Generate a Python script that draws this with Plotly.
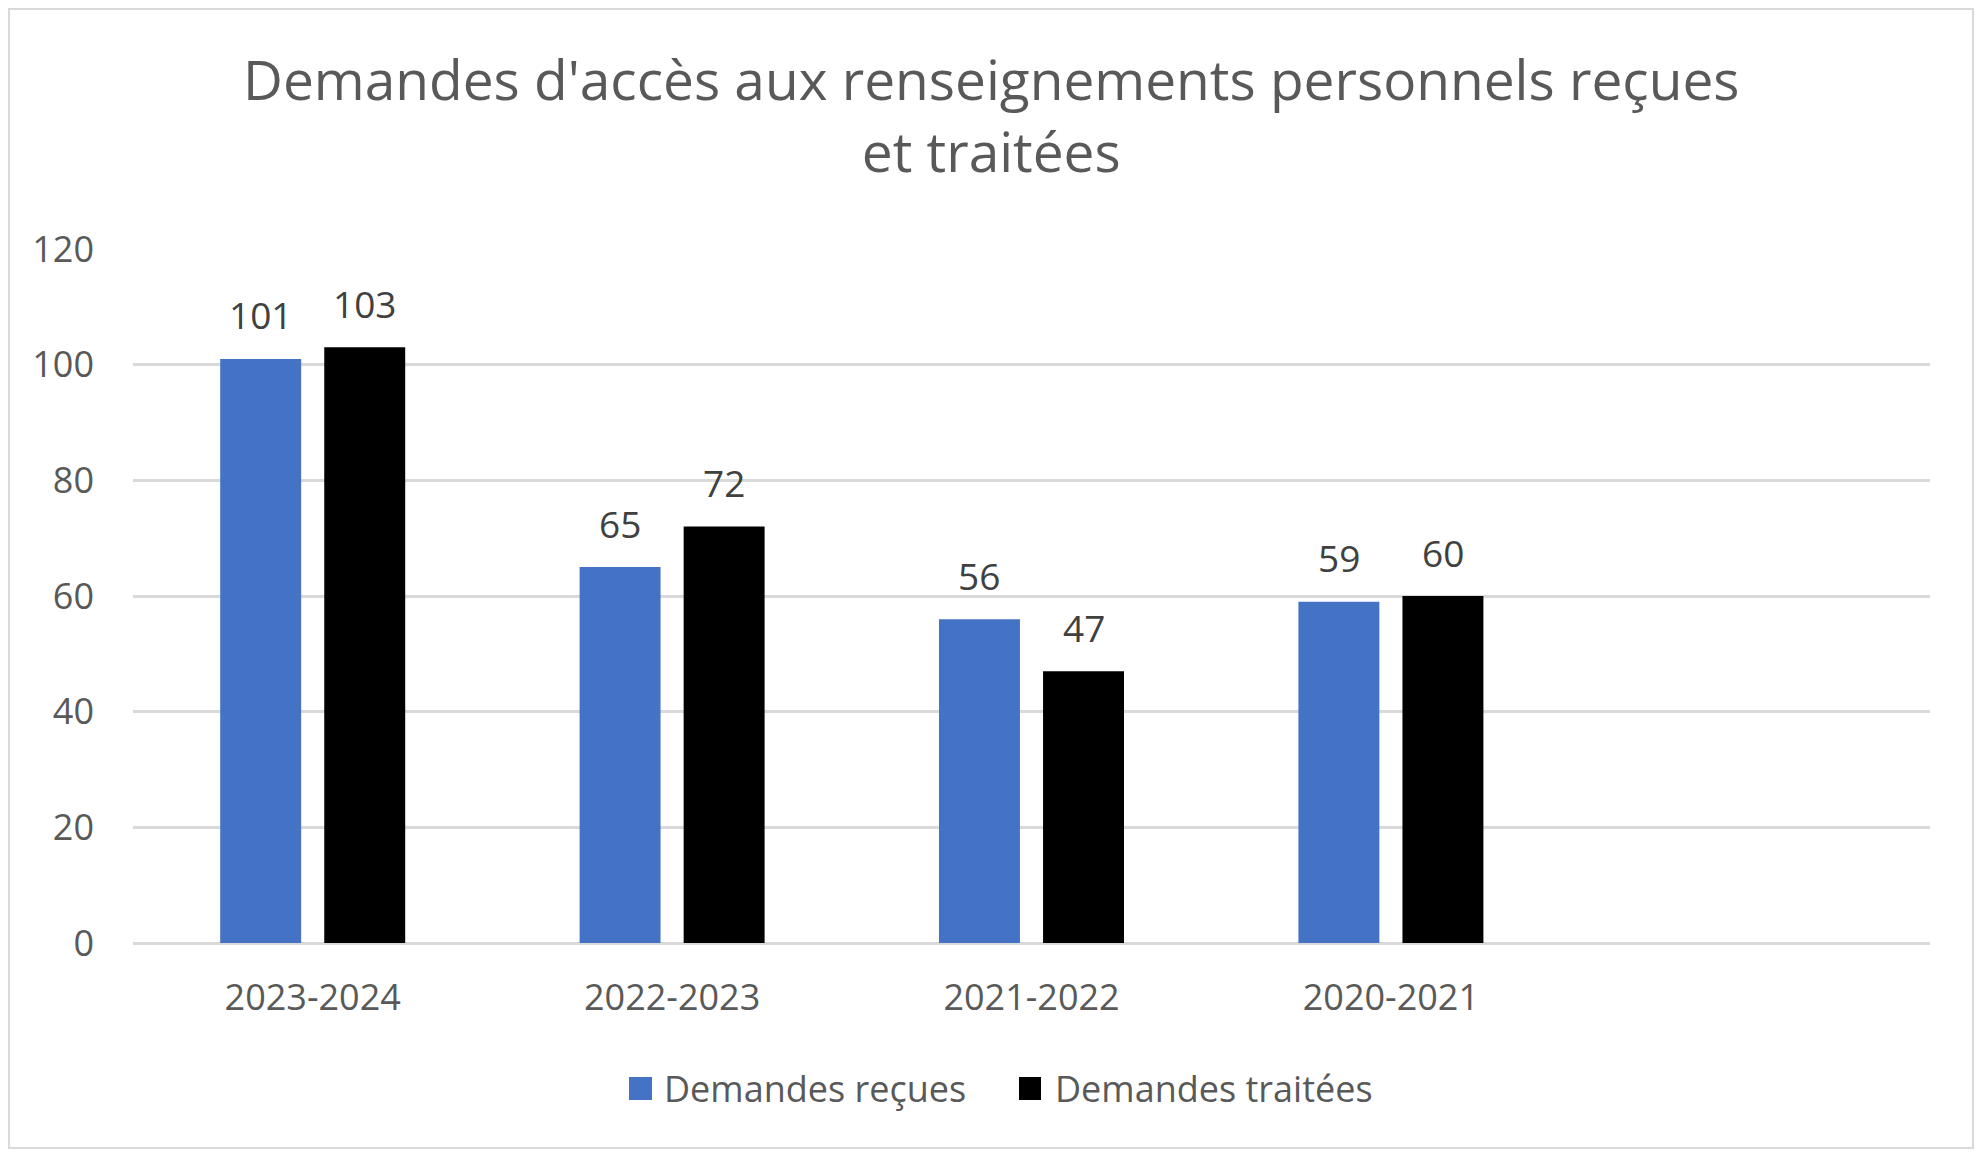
import plotly.graph_objects as go

categories = ["2023-2024", "2022-2023", "2021-2022", "2020-2021"]
recues = [101, 65, 56, 59]
traitees = [103, 72, 47, 60]
series_names = ["Demandes reçues", "Demandes traitées"]
series_colors = ["#4472C4", "#000000"]
title_text = "Demandes d'accès aux renseignements personnels reçues<br>et traitées"
y_ticks = [0, 20, 40, 60, 80, 100, 120]

# page has 8px body margin -> figure drawn at (8, 8)
OFF = 8
W, H = 1982 - 2 * OFF, 1157 - 2 * OFF
ml, mt = 133 - OFF, 249 - OFF
plot_right, plot_bottom = 1930 - OFF, 943 - OFF
mr, mb = W - plot_right, H - plot_bottom
pw, ph = W - ml - mr, H - mt - mb
FONT = "Open Sans"


def px(X):
    return (X - OFF - ml) / pw


def py(Y):
    return (plot_bottom - (Y - OFF)) / ph


fig = go.Figure()
bar_gap, group_gap = 0.421, 0.222
for name, vals, col in zip(series_names, [recues, traitees], series_colors):
    fig.add_trace(go.Bar(x=categories, y=vals, name=name,
                         marker=dict(color=col, line=dict(width=0)),
                         showlegend=False))

# data labels as annotations (offset to each bar of the group)
cat_px = pw / 5
slot_px = cat_px * (1 - bar_gap) / 2
for k, vals in enumerate([recues, traitees]):
    shift = (k - 0.5) * slot_px
    for c, v in zip(categories, vals):
        fig.add_annotation(x=c, y=v, xref="x", yref="y", text=str(v), showarrow=False,
                           xshift=shift, yshift=44, yanchor="middle",
                           font=dict(size=37, color="#404040", family=FONT))

# manual legend (large square swatches like the reference)
legend_items = [(629, 652, 662), (1019, 1041, 1053)]
for (sx0, sx1, tx), name, col in zip(legend_items, series_names, series_colors):
    fig.add_shape(type="rect", xref="paper", yref="paper",
                  x0=px(sx0), x1=px(sx1), y0=py(1100), y1=py(1077),
                  fillcolor=col, line=dict(width=0))
    fig.add_annotation(x=px(tx), y=py(1088), xref="paper", yref="paper", text=name,
                       showarrow=False, xanchor="left", yanchor="middle",
                       font=dict(size=36, color="#595959", family=FONT))

# title
fig.add_annotation(x=px(991), y=py(115), xref="paper", yref="paper", text=title_text,
                   showarrow=False, xanchor="center", yanchor="middle",
                   font=dict(size=55, color="#595959", family=FONT))

# chart border
fig.add_shape(type="rect", xref="paper", yref="paper",
              x0=-(ml - 1) / pw, x1=1 + (mr - 1) / pw,
              y0=-(mb - 1) / ph, y1=1 + (mt - 1) / ph,
              line=dict(color="#d9d9d9", width=2), layer="below")

fig.update_layout(
    width=W, height=H,
    margin=dict(l=ml, r=mr, t=mt, b=mb, autoexpand=False),
    paper_bgcolor="white", plot_bgcolor="white",
    font=dict(family=FONT, color="#595959"),
    barmode="group", bargap=bar_gap, bargroupgap=group_gap,
    showlegend=False,
    xaxis=dict(type="category", range=[-0.5, 4.5], showgrid=False, showline=False,
               ticks="", tickfont=dict(size=36, color="#595959"), ticklabelstandoff=30,
               fixedrange=True),
    yaxis=dict(range=[0, 120], tickvals=y_ticks, showgrid=True, gridcolor="#d9d9d9",
               gridwidth=2.5, zeroline=True, zerolinecolor="#d9d9d9", zerolinewidth=2.5,
               showline=False, ticks="", tickfont=dict(size=36, color="#595959"),
               ticklabelstandoff=38),
)

fig.write_html("out.html")
